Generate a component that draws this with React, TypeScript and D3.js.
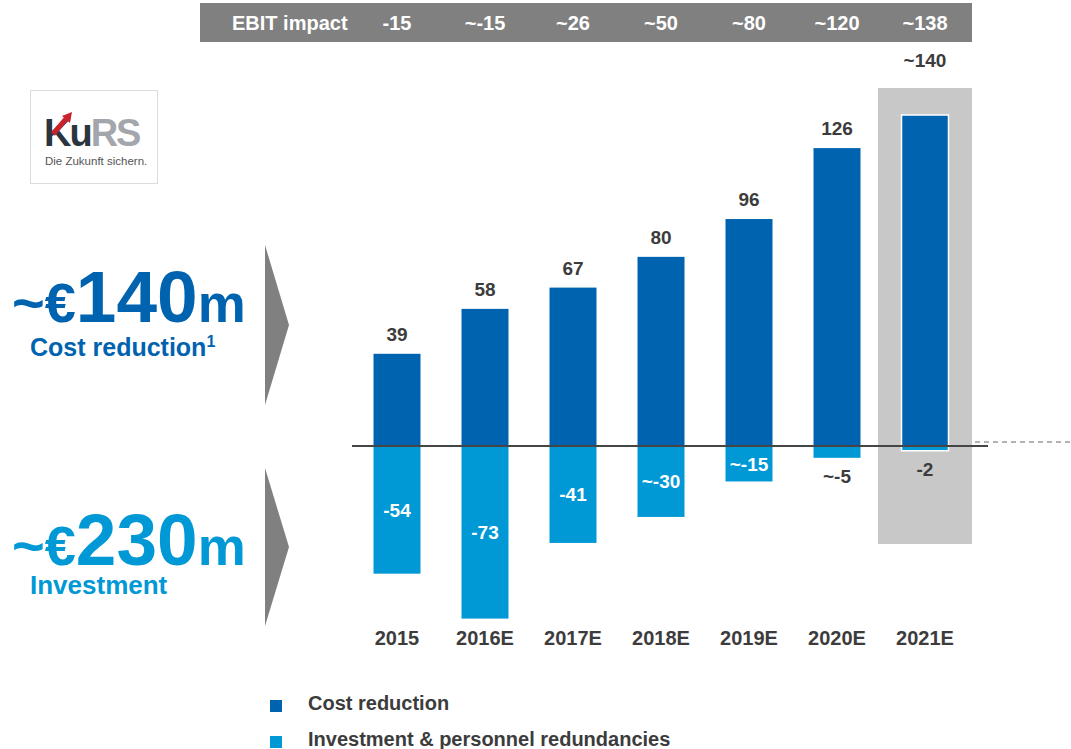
import React from "react";
import * as d3 from "d3";

const years = ["2015", "2016E", "2017E", "2018E", "2019E", "2020E", "2021E"];
const costReduction = [39, 58, 67, 80, 96, 126, 140];
const costLabels = ["39", "58", "67", "80", "96", "126", "~140"];
const investment = [-54, -73, -41, -30, -15, -5, -2];
const investLabels = ["-54", "-73", "-41", "~-30", "~-15", "~-5", "-2"];
const ebitImpact = ["-15", "~-15", "~26", "~50", "~80", "~120", "~138"];
const highlightYear = "2021E";

const DARK = "#0063af";
const LIGHT = "#0098d5";
const TEXT = "#3c3c3c";
const FONT = "'Liberation Sans', Arial, sans-serif";

const W = 1071;
const H = 749;

const App = () => {
  const x = d3
    .scaleBand<string>()
    .domain(years)
    .range([353, 969])
    .paddingInner(0.466)
    .paddingOuter(0.233);
  const y = d3.scaleLinear().domain([0, 140]).range([446, 115]);
  const bw = x.bandwidth();
  const cx = (d: string) => (x(d) as number) + bw / 2;

  const hx = cx(highlightYear);

  return (
    <svg
      width={W}
      height={H}
      style={{ position: "absolute", left: 0, top: 0, fontFamily: FONT }}
    >
      <rect width={W} height={H} fill="#fff" />

      {/* EBIT impact banner */}
      <rect x={200} y={3} width={772} height={39} fill="#808080" />
      <text x={232} y={30} fill="#fff" fontSize={20} fontWeight="bold">
        EBIT impact
      </text>
      {years.map((yr, i) => (
        <text
          key={"e" + yr}
          x={cx(yr)}
          y={30}
          fill="#fff"
          fontSize={20}
          fontWeight="bold"
          textAnchor="middle"
        >
          {ebitImpact[i]}
        </text>
      ))}

      {/* logo */}
      <rect x={30.5} y={90.5} width={127} height={93} fill="#fff" stroke="#dcdcdc" />
      <text x={44} y={146} fontSize={38} fontWeight="bold" letterSpacing={-2}>
        <tspan fill="#2b3540">Ku</tspan>
        <tspan fill="#a3a7ab">RS</tspan>
      </text>
      <path d="M53,134 L66,119" stroke="#c8232c" strokeWidth={5} />
      <path d="M62,116 L72,112 L70,123 Z" fill="#c8232c" />
      <text x={45} y={165} fontSize={11.5} fill="#555">
        Die Zukunft sichern.
      </text>

      {/* left summary */}
      <text x={12} y={322} fill={DARK} fontWeight="bold">
        <tspan fontSize={56}>~€</tspan>
        <tspan fontSize={73}>140</tspan>
        <tspan fontSize={54}>m</tspan>
      </text>
      <text x={30} y={356} fill={DARK} fontWeight="bold" fontSize={25}>
        Cost reduction
        <tspan fontSize={16} dy={-9}>1</tspan>
      </text>
      <text x={12} y={565} fill={LIGHT} fontWeight="bold">
        <tspan fontSize={56}>~€</tspan>
        <tspan fontSize={73}>230</tspan>
        <tspan fontSize={54}>m</tspan>
      </text>
      <text x={30} y={594} fill={LIGHT} fontWeight="bold" fontSize={26}>
        Investment
      </text>
      <polygon points="265,245 289,325 265,405" fill="#808080" />
      <polygon points="265,468 289,547 265,626" fill="#808080" />

      {/* highlight box */}
      <rect x={hx - 47} y={88} width={94} height={456} fill="#c8c8c8" />

      {/* bars */}
      {years.map((yr, i) => {
        const hl = yr === highlightYear;
        return (
          <g key={"b" + yr}>
            <rect
              x={x(yr)}
              y={y(costReduction[i])}
              width={bw}
              height={y(0) - y(costReduction[i])}
              fill={DARK}
              stroke={hl ? "#fff" : "none"}
              strokeWidth={1.5}
            />
            <rect
              x={x(yr)}
              y={y(0)}
              width={bw}
              height={y(investment[i]) - y(0)}
              fill={LIGHT}
              stroke={hl ? "#fff" : "none"}
              strokeWidth={1.5}
            />
          </g>
        );
      })}

      {/* baseline */}
      <line x1={352} x2={988} y1={y(0)} y2={y(0)} stroke="#454545" strokeWidth={2} />
      <line
        x1={975}
        x2={1071}
        y1={442}
        y2={442}
        stroke="#666"
        strokeWidth={1}
        strokeDasharray="5,4"
      />

      {/* value labels */}
      {years.map((yr, i) => {
        const hl = yr === highlightYear;
        const top = hl ? 67 : y(costReduction[i]) - 13;
        const negH = y(investment[i]) - y(0);
        const inside = negH > 25;
        return (
          <g key={"l" + yr} fontWeight="bold" fontSize={19} textAnchor="middle">
            <text x={cx(yr)} y={top} fill={TEXT}>
              {costLabels[i]}
            </text>
            <text
              x={cx(yr)}
              y={inside ? y(0) + negH / 2 + 7 : y(investment[i]) + 25}
              fill={inside ? "#fff" : TEXT}
            >
              {investLabels[i]}
            </text>
          </g>
        );
      })}

      {/* x labels */}
      {years.map((yr) => (
        <text
          key={"x" + yr}
          x={cx(yr)}
          y={645}
          fill={TEXT}
          fontSize={20}
          fontWeight="bold"
          textAnchor="middle"
        >
          {yr}
        </text>
      ))}

      {/* legend */}
      <rect x={270} y={700} width={12} height={12} fill={DARK} />
      <text x={308} y={710} fill={TEXT} fontSize={20} fontWeight="bold">
        Cost reduction
      </text>
      <rect x={270} y={736} width={12} height={12} fill={LIGHT} />
      <text x={308} y={746} fill={TEXT} fontSize={20} fontWeight="bold">
        Investment &amp; personnel redundancies
      </text>
    </svg>
  );
};

export default App;
